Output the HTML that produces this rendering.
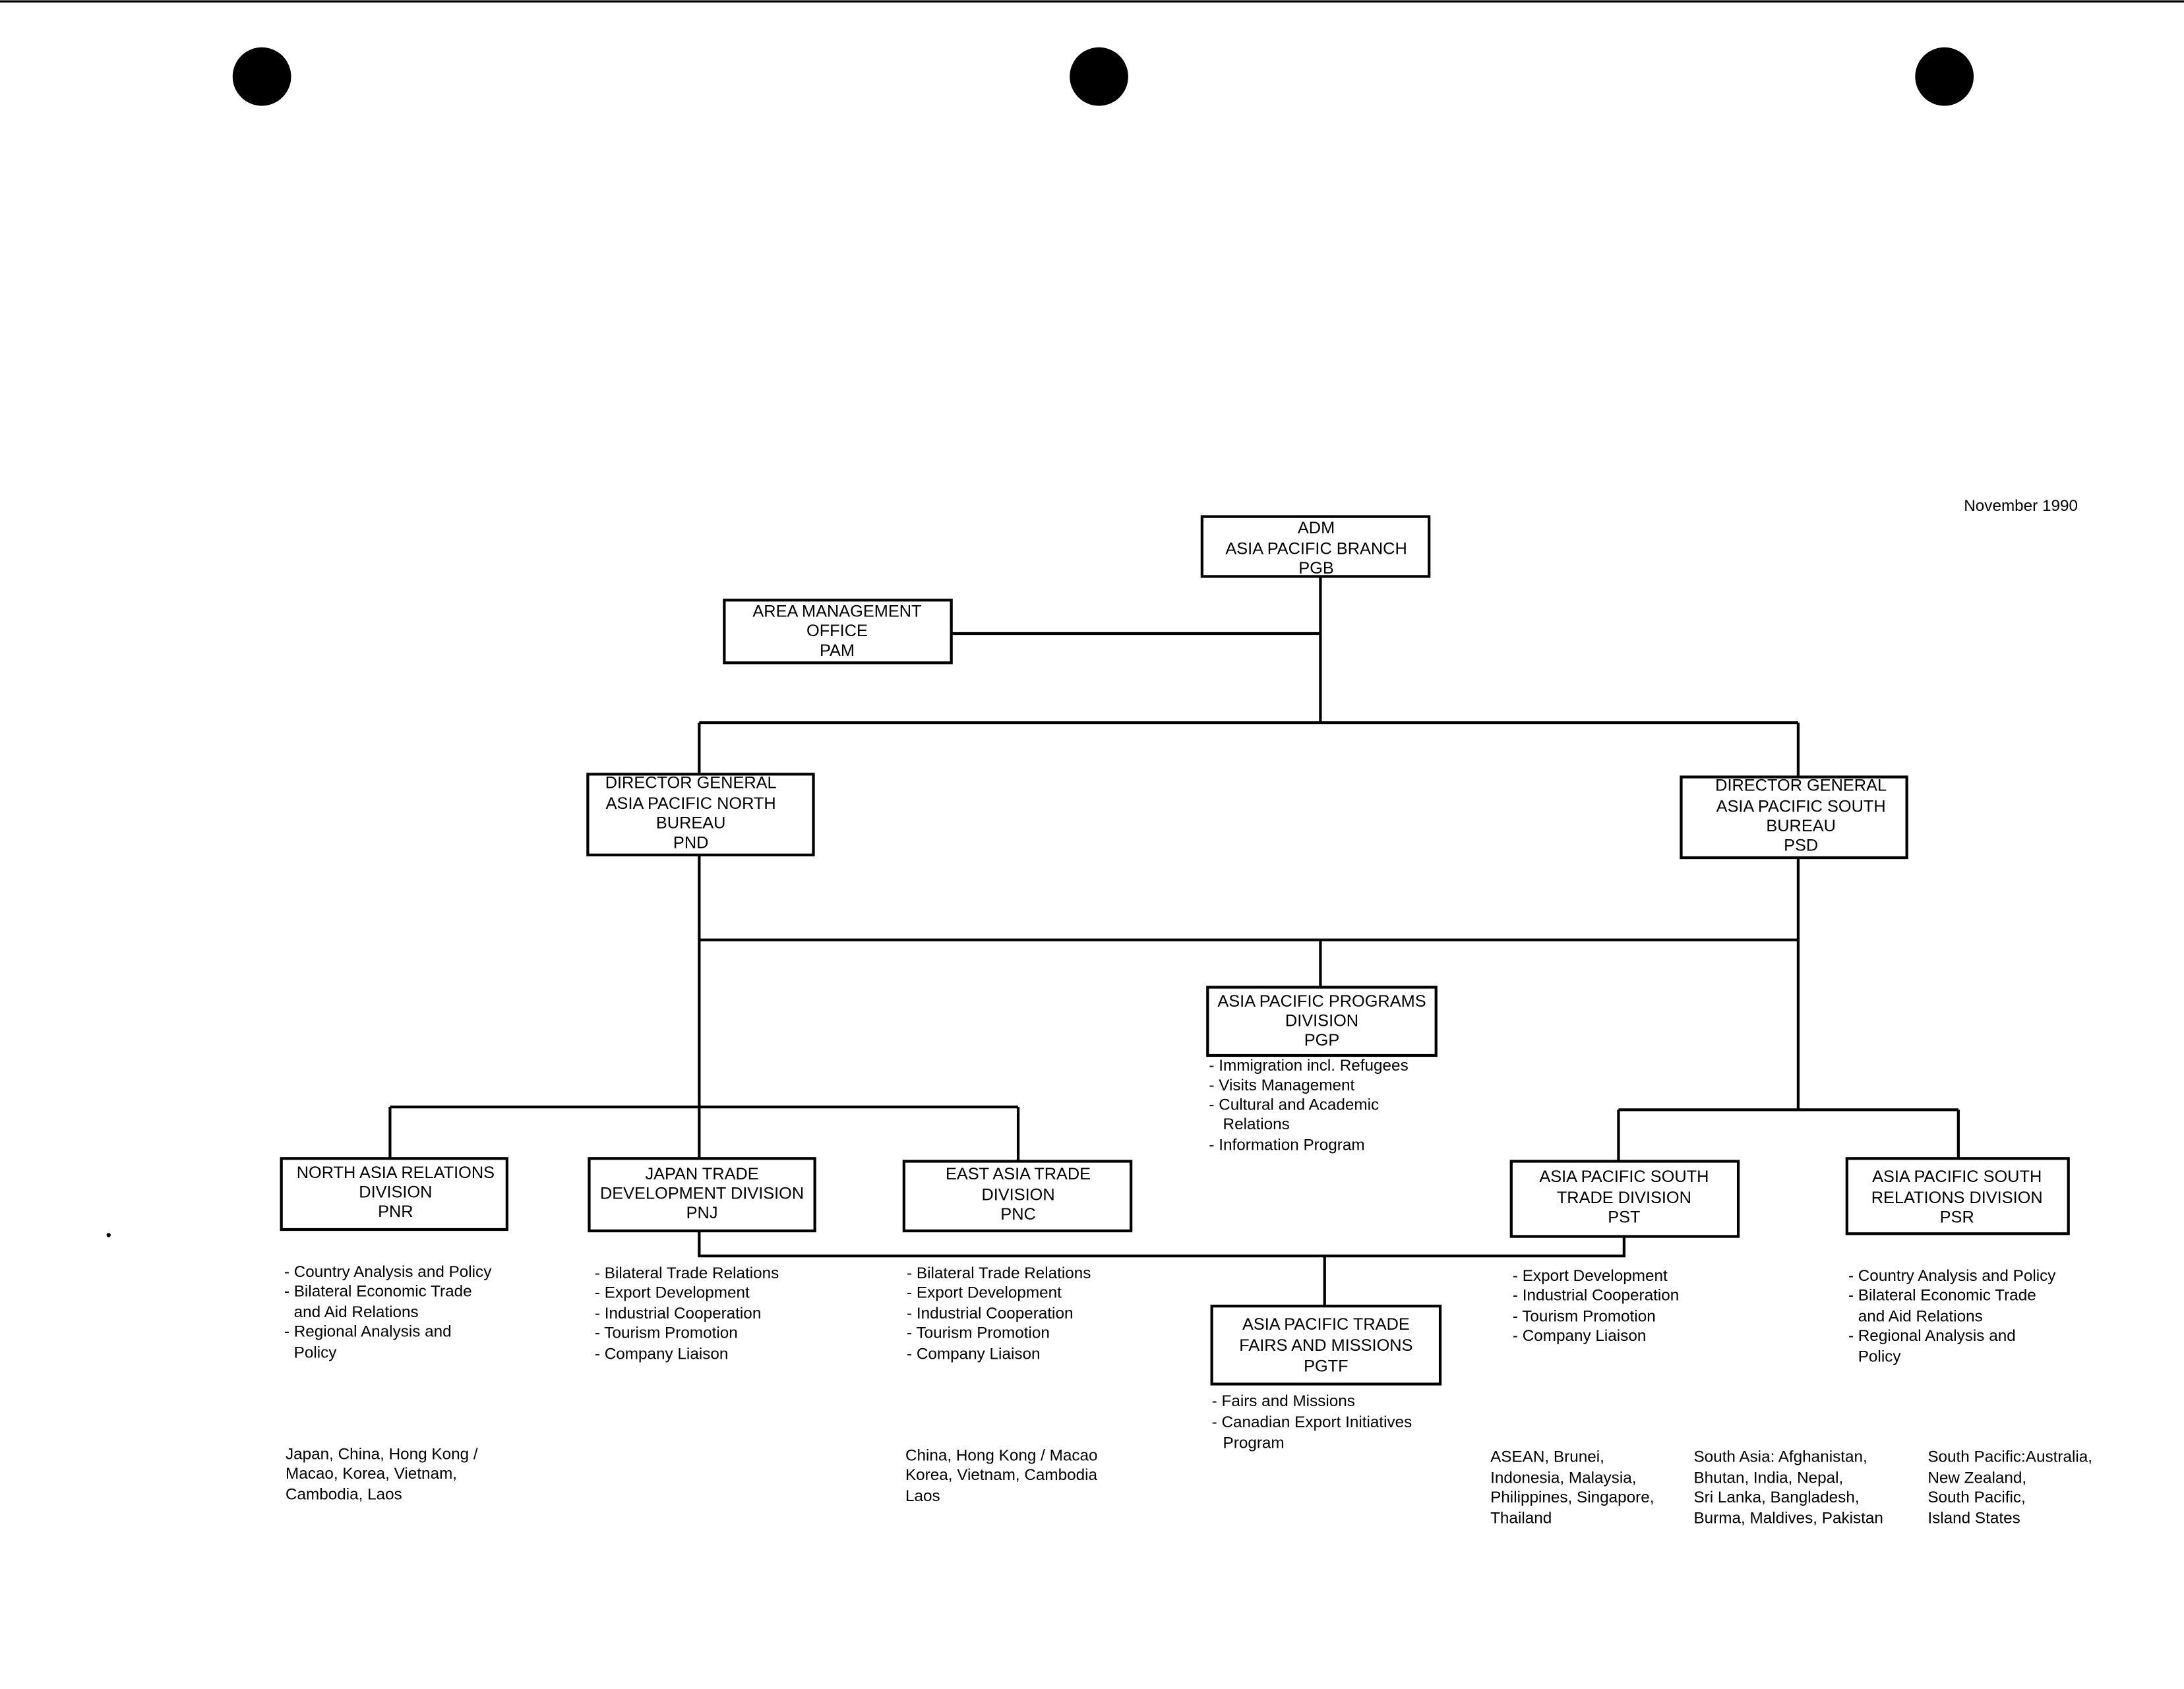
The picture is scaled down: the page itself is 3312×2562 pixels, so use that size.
<!DOCTYPE html>
<html><head><meta charset="utf-8"><style>
html,body{margin:0;padding:0;background:#fff;}
svg{display:block;}
text{font-family:"Liberation Sans",Arial,sans-serif;fill:#000;}
</style></head><body>
<svg width="3312" height="2562" viewBox="0 0 1568 1213" preserveAspectRatio="none" xmlns="http://www.w3.org/2000/svg">
<rect x="0" y="0" width="1568" height="1213" fill="#fff"/>
<line x1="0" y1="1" x2="1568" y2="1" stroke="#000" stroke-width="1.5"/>
<circle cx="188" cy="55" r="21" fill="#000"/>
<circle cx="789" cy="55" r="21" fill="#000"/>
<circle cx="1396" cy="55" r="21" fill="#000"/>
<text x="1410" y="367" font-size="11.5">November 1990</text>
<g stroke="#000" stroke-width="2" fill="none">
<rect x="863" y="371" width="163" height="43"/>
<rect x="520" y="431" width="163" height="45"/>
<rect x="422" y="556" width="162" height="58"/>
<rect x="1207" y="558" width="162" height="58"/>
<rect x="867" y="709" width="164" height="49"/>
<rect x="202" y="832" width="162" height="51"/>
<rect x="423" y="832" width="162" height="52"/>
<rect x="649" y="834" width="163" height="50"/>
<rect x="1085" y="834" width="163" height="54"/>
<rect x="1326" y="832" width="159" height="54"/>
<rect x="870" y="938" width="164" height="56"/>
<path d="M683 455H948M948 414V519M502 519H1291M502 519V556M1291 519V558M502 614V832M502 675H1291M948 675V709M1291 616V797M1162 797H1406M1162 797V834M1406 797V832M280 795H731M280 795V832M731 795V834M502 884V902H1166V888M951 902V938"/>
</g>
<g font-size="12" text-anchor="middle">
<text x="945" y="383">ADM</text><text x="945" y="398">ASIA PACIFIC BRANCH</text><text x="945" y="412">PGB</text>
<text x="601" y="443">AREA MANAGEMENT</text><text x="601" y="457">OFFICE</text><text x="601" y="471">PAM</text>
<text x="496" y="566">DIRECTOR GENERAL</text><text x="496" y="581">ASIA PACIFIC NORTH</text><text x="496" y="595">BUREAU</text><text x="496" y="609">PND</text>
<text x="1293" y="568">DIRECTOR GENERAL</text><text x="1293" y="583">ASIA PACIFIC SOUTH</text><text x="1293" y="597">BUREAU</text><text x="1293" y="611">PSD</text>
<text x="949" y="723">ASIA PACIFIC PROGRAMS</text><text x="949" y="737">DIVISION</text><text x="949" y="751">PGP</text>
<text x="284" y="846">NORTH ASIA RELATIONS</text><text x="284" y="860">DIVISION</text><text x="284" y="874">PNR</text>
<text x="504" y="847">JAPAN TRADE</text><text x="504" y="861">DEVELOPMENT DIVISION</text><text x="504" y="875">PNJ</text>
<text x="731" y="847">EAST ASIA TRADE</text><text x="731" y="862">DIVISION</text><text x="731" y="876">PNC</text>
<text x="1166" y="849">ASIA PACIFIC SOUTH</text><text x="1166" y="864">TRADE DIVISION</text><text x="1166" y="878">PST</text>
<text x="1405" y="849">ASIA PACIFIC SOUTH</text><text x="1405" y="864">RELATIONS DIVISION</text><text x="1405" y="878">PSR</text>
<text x="952" y="955">ASIA PACIFIC TRADE</text><text x="952" y="970">FAIRS AND MISSIONS</text><text x="952" y="985">PGTF</text>
</g>
<g font-size="11.5">
<text x="868" y="769">- Immigration incl. Refugees</text><text x="868" y="783">- Visits Management</text><text x="868" y="797">- Cultural and Academic</text><text x="878" y="811">Relations</text><text x="868" y="826">- Information Program</text>
<text x="204" y="917">- Country Analysis and Policy</text><text x="204" y="931">- Bilateral Economic Trade</text><text x="211" y="946">and Aid Relations</text><text x="204" y="960">- Regional Analysis and</text><text x="211" y="975">Policy</text>
<text x="427" y="918">- Bilateral Trade Relations</text><text x="427" y="932">- Export Development</text><text x="427" y="947">- Industrial Cooperation</text><text x="427" y="961">- Tourism Promotion</text><text x="427" y="976">- Company Liaison</text>
<text x="651" y="918">- Bilateral Trade Relations</text><text x="651" y="932">- Export Development</text><text x="651" y="947">- Industrial Cooperation</text><text x="651" y="961">- Tourism Promotion</text><text x="651" y="976">- Company Liaison</text>
<text x="1086" y="920">- Export Development</text><text x="1086" y="934">- Industrial Cooperation</text><text x="1086" y="949">- Tourism Promotion</text><text x="1086" y="963">- Company Liaison</text>
<text x="1327" y="920">- Country Analysis and Policy</text><text x="1327" y="934">- Bilateral Economic Trade</text><text x="1334" y="949">and Aid Relations</text><text x="1327" y="963">- Regional Analysis and</text><text x="1334" y="978">Policy</text>
<text x="870" y="1010">- Fairs and Missions</text><text x="870" y="1025">- Canadian Export Initiatives</text><text x="878" y="1040">Program</text>
<text x="205" y="1048">Japan, China, Hong Kong /</text><text x="205" y="1062">Macao, Korea, Vietnam,</text><text x="205" y="1077">Cambodia, Laos</text>
<text x="650" y="1049">China, Hong Kong / Macao</text><text x="650" y="1063">Korea, Vietnam, Cambodia</text><text x="650" y="1078">Laos</text>
<text x="1070" y="1050">ASEAN, Brunei,</text><text x="1070" y="1065">Indonesia, Malaysia,</text><text x="1070" y="1079">Philippines, Singapore,</text><text x="1070" y="1094">Thailand</text>
<text x="1216" y="1050">South Asia: Afghanistan,</text><text x="1216" y="1065">Bhutan, India, Nepal,</text><text x="1216" y="1079">Sri Lanka, Bangladesh,</text><text x="1216" y="1094">Burma, Maldives, Pakistan</text>
<text x="1384" y="1050">South Pacific:Australia,</text><text x="1384" y="1065">New Zealand,</text><text x="1384" y="1079">South Pacific,</text><text x="1384" y="1094">Island States</text>
</g>
<circle cx="78" cy="887" r="1.5" fill="#000"/>
</svg>
</body></html>
